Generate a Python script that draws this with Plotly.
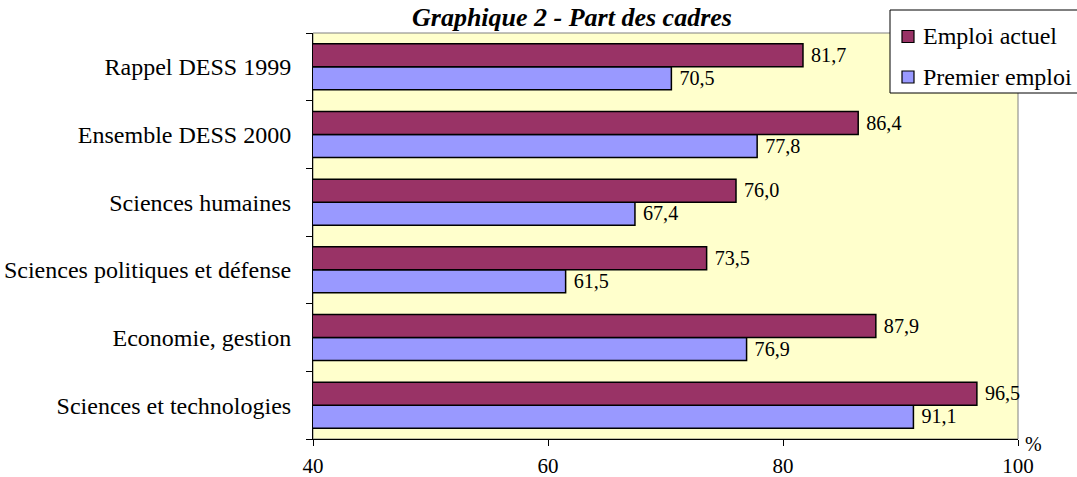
import plotly.graph_objects as go

categories = ["Rappel DESS 1999", "Ensemble DESS 2000", "Sciences humaines",
              "Sciences politiques et défense", "Economie, gestion",
              "Sciences et technologies"]
emploi_actuel = [81.7, 86.4, 76.0, 73.5, 87.9, 96.5]
premier_emploi = [70.5, 77.8, 67.4, 61.5, 76.9, 91.1]
x_ticks = [40, 60, 80, 100]
series_names = ["Emploi actuel", "Premier emploi"]
series_colors = ["#993366", "#9999FF"]

n = len(categories)
ypos = [n - 1 - i for i in range(n)]

def fmt(v):
    return " " + f"{v:.1f}".replace(".", ",")

FONT = "Liberation Serif, Times New Roman, serif"
W, H = 1077, 477
ML, MR, MT, MB = 313, 59, 33, 38
PW, PH = W - ML - MR, H - MT - MB

def px(x):
    return (x - ML) / PW

def py(y):
    return (H - MB - y) / PH

fig = go.Figure()
for name, vals, color in [(series_names[1], premier_emploi, series_colors[1]),
                          (series_names[0], emploi_actuel, series_colors[0])]:
    fig.add_trace(go.Bar(
        name=name, y=ypos, x=vals, orientation="h",
        marker=dict(color=color, line=dict(color="black", width=1.5)),
        text=[fmt(v) for v in vals], textposition="outside",
        textfont=dict(family=FONT, size=21, color="black"), cliponaxis=False,
        showlegend=False, hoverinfo="skip",
    ))

shapes = [dict(type="rect", xref="paper", yref="paper", x0=0, x1=1, y0=0, y1=1,
               line=dict(color="#808080", width=1), layer="below"),
          # legend box
          dict(type="rect", xref="paper", yref="paper", x0=px(890), x1=px(1090),
               y0=py(93), y1=py(10), line=dict(color="black", width=1),
               fillcolor="white", layer="above")]
annotations = [
    dict(text="<b><i>Graphique 2 - Part des cadres</i></b>", xref="paper", yref="paper",
         x=px(572), y=py(17), xanchor="center", yanchor="middle", showarrow=False,
         font=dict(family=FONT, size=26, color="black")),
    dict(text="%", xref="x", yref="paper", x=100, y=0, xshift=5, yshift=-5,
         xanchor="left", yanchor="middle", showarrow=False,
         font=dict(family=FONT, size=20, color="black")),
]
row_centers = [36.5, 77]
for name, color, yc in zip(series_names, series_colors, row_centers):
    shapes.append(dict(type="rect", xref="paper", yref="paper",
                       x0=px(902), x1=px(914), y0=py(yc + 6), y1=py(yc - 6),
                       line=dict(color="black", width=1.2), fillcolor=color, layer="above"))
    annotations.append(dict(text=name, xref="paper", yref="paper", x=px(921), y=py(yc),
                            xanchor="left", yanchor="middle", showarrow=False,
                            font=dict(family=FONT, size=24, color="black")))

fig.update_layout(
    width=W, height=H,
    margin=dict(l=ML, r=MR, t=MT, b=MB, autoexpand=False),
    paper_bgcolor="white", plot_bgcolor="#FFFFCC",
    barmode="group", bargap=0.32, bargroupgap=0,
    font=dict(family=FONT, size=22, color="black"),
    showlegend=False, hovermode=False,
    xaxis=dict(
        range=[40, 100], tickvals=x_ticks, ticks="outside", ticklen=6,
        tickcolor="black", showline=True, linecolor="black", linewidth=1,
        showgrid=False, zeroline=False, ticklabelstandoff=2,
        tickfont=dict(family=FONT, size=21, color="black"),
    ),
    yaxis=dict(
        range=[-0.5, n - 0.5], tickvals=ypos, ticktext=categories,
        ticks="", showline=True, linecolor="black", linewidth=1,
        showgrid=False, zeroline=False, ticklabelstandoff=16,
        tickfont=dict(family=FONT, size=24, color="black"),
        minor=dict(tickvals=[i - 0.5 for i in range(n + 1)], ticks="outside",
                   ticklen=6, tickcolor="black", showgrid=False),
    ),
    shapes=shapes,
    annotations=annotations,
)

fig.write_html("out.html", config={"displayModeBar": False, "staticPlot": True},
               post_script="document.body.style.margin='0';document.body.style.overflow='hidden';")
